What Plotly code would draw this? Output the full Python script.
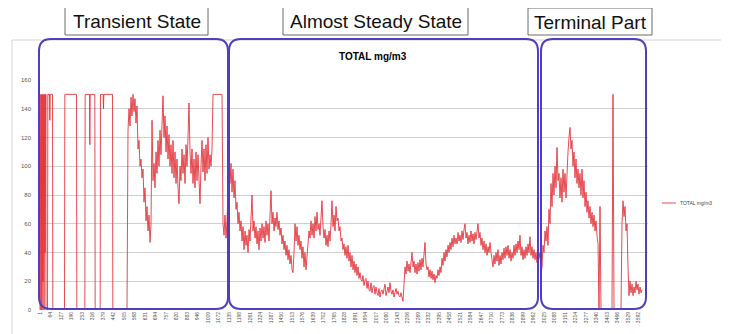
import plotly.graph_objects as go

# ---------------- data ----------------
series_name = "TOTAL mg/m3"
title_text = "TOTAL mg/m3"
phase_labels = ["Transient State", "Almost Steady State", "Terminal Part"]

x_tick_labels = [1, 64, 127, 190, 253, 316, 379, 442, 505, 568, 631, 694, 757, 820, 883,
                 946, 1009, 1072, 1135, 1198, 1261, 1324, 1387, 1450, 1513, 1576, 1639,
                 1702, 1765, 1828, 1891, 1954, 2017, 2080, 2143, 2206, 2269, 2332, 2395,
                 2458, 2521, 2584, 2647, 2710, 2773, 2836, 2899, 2962, 3025, 3088, 3151,
                 3214, 3277, 3340, 3403, 3466, 3529, 3592]
y_tick_values = [0, 20, 40, 60, 80, 100, 120, 140, 160]

# saturated on/off pulses at the very start (sample index, value)
pulse_idx = [1, 2, 6, 7, 8, 12, 13, 14, 18, 19, 20, 24, 25, 26, 30, 31, 32, 36, 37, 46,
             48, 58, 60, 62, 76, 78, 148, 150, 220, 222, 270, 272, 298, 300, 302, 330,
             332, 362, 364, 380, 382, 384, 436, 438, 523]
pulse_val = [0, 150, 150, 0, 150, 150, 0, 150, 150, 20, 150, 150, 0, 150, 150, 40, 150, 150, 0, 0,
             150, 150, 132, 150, 150, 0, 0, 150, 150, 0, 0, 150, 150, 115, 150, 150,
             0, 0, 150, 150, 140, 150, 150, 0, 0]

# continuous readings (one value every 6 samples, starting at sample 529)
first_sample = 529
sample_step = 6

transient_vals = [
    125, 140, 128, 148, 135, 150, 138, 147, 130, 142,
    112, 118, 100, 105, 92, 98, 75, 85, 62, 72,
    55, 66, 47, 60, 132, 90, 102, 85, 110, 95,
    118, 100, 125, 108, 130, 149, 120, 135, 110, 128,
    105, 122, 100, 115, 95, 118, 92, 110, 88, 105,
    85, 74, 100, 90, 112, 95, 108, 88, 115, 100,
    120, 144, 110, 95, 112, 88, 105, 85, 110, 90,
    108, 86, 74, 100, 118, 96, 112, 90, 115, 95,
    120, 98, 108, 100, 112,
    150, 150, 150, 150, 150, 150, 150, 150, 150, 150,
    60, 52, 66, 50, 62, 92]

steady_vals = [
    105, 88, 102, 82, 98, 78, 90, 70, 75, 60, 68,
    55, 62, 48, 58, 42, 55, 45, 52, 40, 56,
    48, 62, 80, 55, 62, 50, 58, 46, 55, 42,
    57, 48, 60, 50, 58, 47, 62, 52, 60, 48,
    65, 83, 60, 68, 55, 64, 58, 68, 56, 62,
    52, 57, 46, 52, 42, 48, 38, 45, 35, 42,
    32, 38, 28, 26, 40, 60, 48, 58, 45, 52,
    42, 48, 36, 44, 30, 40, 28, 38, 46, 55,
    50, 62, 52, 60, 50, 65, 55, 68, 56, 60,
    52, 62, 76, 58, 50, 56, 45, 52, 44, 55,
    48, 60, 76, 58, 66, 55, 72, 62, 64, 55,
    58, 48, 50, 42, 46, 38, 44, 36, 45, 34,
    40, 30, 38, 28, 34, 26, 32, 24, 30, 22,
    26, 21, 20, 24, 17, 21, 22, 15, 20, 14,
    13, 19, 12, 16, 17, 11, 16, 12, 10, 15,
    9, 13, 14, 11, 15, 18, 10, 13, 16, 12,
    19, 13, 11, 14, 9, 12, 15, 11, 13, 10,
    9, 12, 8, 6, 18, 30, 25, 34, 27, 32,
    26, 35, 40, 30, 34, 26, 32, 25, 33, 27,
    35, 28, 36, 30, 38, 47, 32, 28, 30, 23,
    28, 22, 27, 21, 25, 19, 24, 22, 28, 24,
    30, 26, 36, 31, 40, 34, 42, 37, 45, 40,
    47, 42, 50, 44, 52, 46, 50, 46, 54, 48,
    52, 47, 55, 49, 56, 60, 50, 54, 46, 52,
    47, 55, 48, 53, 46, 54, 49, 56, 60, 50,
    54, 45, 50, 42, 48, 40, 46, 38, 44, 40,
    47, 40, 35, 30, 38, 32, 40, 34, 42, 31,
    38, 32, 40, 35, 43, 36, 44, 38, 45, 36,
    42, 34, 40, 36, 45, 38, 46, 40, 48, 42,
    52, 38, 44, 35, 42, 36, 44, 38, 46, 40,
    51, 38, 44, 36, 42, 35, 40, 33, 42, 36,
    40]

terminal_vals = [
    25, 30, 45, 40, 55, 48, 58, 45, 70, 60,
    88, 72, 95, 80, 100, 85, 113, 90, 95, 78,
    92, 75, 98, 82, 95, 78, 100, 110, 120, 127,
    112, 118, 100, 110, 92, 105, 88, 98, 85, 95,
    80, 98, 78, 90, 72, 82, 68, 76, 64, 72,
    60, 68, 58, 66, 55, 62, 52, 46, 0, 72,
    0, 0, 0, 0, 0, 0, 0, 0, 0, 0,
    0, 0, 150, 0, 0, 0, 0, 0, 0, 0,
    0, 60, 76, 65, 72, 55, 60, 30, 10, 20,
    12, 18, 10, 16, 12, 20, 14, 18, 11, 16,
    12, 14]

readings = transient_vals + steady_vals + terminal_vals
reading_idx = [first_sample + sample_step * i for i in range(len(readings))]

x_all = pulse_idx + reading_idx
y_all = pulse_val + readings

# ---------------- layout geometry (window pixels) ----------------
OFF = 8                        # default page body margin
WIN_W, WIN_H = 729, 334
W, H = WIN_W - OFF, WIN_H - OFF
PL, PR, PT, PB = 38, 648, 80, 310   # plot area in window pixels


def px(x):
    return (x - PL) / (PR - PL)


def py(y):
    return (PB - y) / (PB - PT)


def rounded_rect(x0, y0, x1, y1, r):
    rx, ry = r / (PR - PL), r / (PB - PT)
    X0, X1, Yt, Yb = px(x0), px(x1), py(y0), py(y1)
    return (f"M {X0+rx},{Yt} L {X1-rx},{Yt} Q {X1},{Yt} {X1},{Yt-ry} "
            f"L {X1},{Yb+ry} Q {X1},{Yb} {X1-rx},{Yb} L {X0+rx},{Yb} "
            f"Q {X0},{Yb} {X0},{Yb+ry} L {X0},{Yt-ry} Q {X0},{Yt} {X0+rx},{Yt} Z")


fig = go.Figure()
fig.add_trace(go.Scatter(
    x=x_all, y=y_all, mode="lines", name=series_name,
    line=dict(color="rgba(226,45,50,0.85)", width=1),
    showlegend=False,
))

shapes = []
# outer chart frame (light grey)
shapes.append(dict(type="rect", xref="paper", yref="paper",
                   x0=px(12), x1=px(740), y0=py(40), y1=py(345),
                   line=dict(color="#d4d4d4", width=1), layer="below"))

purple = "#4f3fc0"
for (x0, x1) in [(39, 228), (229, 538), (541, 646)]:
    shapes.append(dict(type="path", xref="paper", yref="paper",
                       path=rounded_rect(x0, 39, x1, 309, 12),
                       line=dict(color=purple, width=2)))

label_boxes = [(65, 7, 208, 35), (283, 7, 468, 35), (528, 8, 652, 35)]
annotations = []
for (x0, y0, x1, y1), lab in zip(label_boxes, phase_labels):
    shapes.append(dict(type="rect", xref="paper", yref="paper",
                       x0=px(x0), x1=px(x1), y0=py(y1), y1=py(y0),
                       line=dict(color="#6b6b6b", width=1), fillcolor="white"))
    annotations.append(dict(xref="paper", yref="paper", x=px((x0 + x1) / 2), y=py((y0 + y1) / 2 + 1),
                            text=lab, showarrow=False, xanchor="center", yanchor="middle",
                            font=dict(family="Liberation Sans, Arial", size=19, color="#111")))

# chart title
annotations.append(dict(xref="paper", yref="paper", x=px(373), y=py(57), text="<b>" + title_text + "</b>",
                        showarrow=False, xanchor="center", yanchor="middle",
                        font=dict(family="Liberation Sans, Arial", size=10, color="#000")))

# legend (manual)
shapes.append(dict(type="line", xref="paper", yref="paper", x0=px(662), x1=px(676),
                   y0=py(203), y1=py(203), line=dict(color="rgba(226,45,50,0.85)", width=1)))
annotations.append(dict(xref="paper", yref="paper", x=px(678), y=py(203), text=series_name,
                        showarrow=False, xanchor="left", yanchor="middle",
                        font=dict(family="Liberation Sans, Arial", size=5, color="#444")))

fig.update_layout(
    width=W, height=H,
    margin=dict(l=PL - OFF, r=WIN_W - PR, t=PT - OFF, b=WIN_H - PB, pad=0, autoexpand=False),
    paper_bgcolor="white", plot_bgcolor="white",
    shapes=shapes, annotations=annotations,
    xaxis=dict(range=[-11, 3649], tickmode="array", tickvals=x_tick_labels,
               ticktext=[str(v) for v in x_tick_labels], tickangle=-90, automargin=False,
               tickfont=dict(family="Liberation Sans, Arial", size=5, color="#555"),
               showgrid=False, zeroline=False, showline=False, ticks=""),
    yaxis=dict(range=[0, 160], tickmode="array", tickvals=y_tick_values, automargin=False,
               tickfont=dict(family="Liberation Sans, Arial", size=6, color="#555"),
               showgrid=True, gridcolor="#cfcfcf", gridwidth=1, zeroline=False,
               showline=False, ticks="", ticklabelstandoff=6),
)

fig.write_html("out.html")
